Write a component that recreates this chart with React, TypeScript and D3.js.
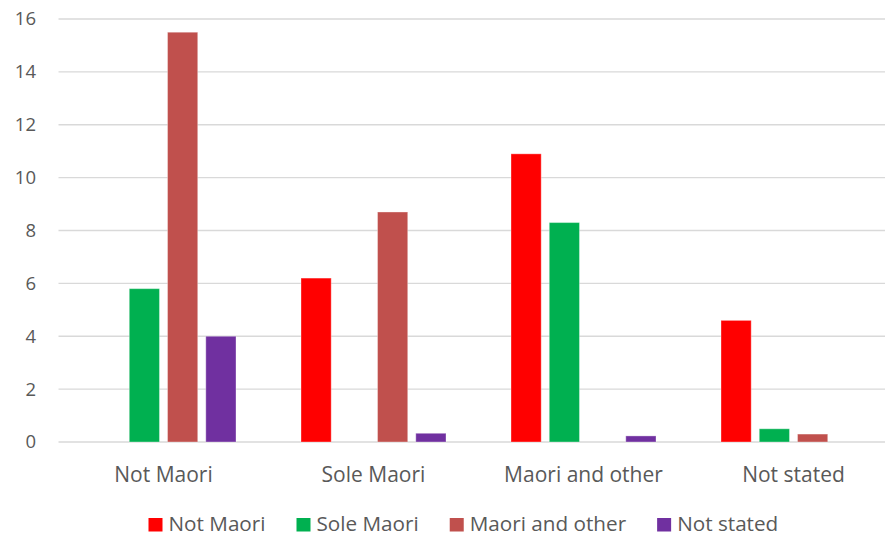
import React, { useEffect, useRef } from "react";
import * as d3 from "d3";

const categories = ["Not Maori", "Sole Maori", "Maori and other", "Not stated"];
const seriesNames = ["Not Maori", "Sole Maori", "Maori and other", "Not stated"];
const seriesColors = ["#FF0000", "#00B050", "#C0504D", "#7030A0"];
// values per series, one entry per category
const notMaoriValues = [0, 6.2, 10.9, 4.6];
const soleMaoriValues = [5.8, 0, 8.3, 0.5];
const maoriOtherValues = [15.5, 8.7, 0, 0.3];
const notStatedValues = [4.0, 0.33, 0.23, 0];
const yTicks = [0, 2, 4, 6, 8, 10, 12, 14, 16];

const W = 885;
const H = 535;
const FONT = "'Open Sans', sans-serif";
const TEXT = "#595959";

export default function App() {
  const ref = useRef<SVGSVGElement>(null);

  useEffect(() => {
    const svg = d3.select(ref.current);
    svg.selectAll("*").remove();

    const series = [notMaoriValues, soleMaoriValues, maoriOtherValues, notStatedValues];
    const x0 = d3.scaleBand<string>().domain(categories).range([58.5, 898.5]).paddingInner(0).paddingOuter(0);
    const x1 = d3
      .scaleBand<string>()
      .domain(seriesNames)
      .range([32.5, x0.bandwidth() - 32.5])
      .paddingInner(8 / 38)
      .paddingOuter(0);
    const y = d3.scaleLinear().domain([0, 16]).range([442, 19]);

    // gridlines
    svg
      .append("g")
      .selectAll("line")
      .data(yTicks)
      .join("line")
      .attr("x1", 58.5)
      .attr("x2", 898.5)
      .attr("y1", (d) => y(d))
      .attr("y2", (d) => y(d))
      .attr("stroke", "#d9d9d9")
      .attr("stroke-width", 1.4);

    // y tick labels
    svg
      .append("g")
      .selectAll("text")
      .data(yTicks)
      .join("text")
      .attr("x", 36)
      .attr("y", (d) => y(d) + 6.4)
      .attr("text-anchor", "end")
      .attr("font-family", FONT)
      .attr("font-size", 18.5)
      .attr("fill", TEXT)
      .text((d) => String(d));

    // bars
    const groups = svg
      .append("g")
      .selectAll("g")
      .data(categories)
      .join("g")
      .attr("transform", (c) => `translate(${x0(c)},0)`);

    groups
      .selectAll("rect")
      .data((c) =>
        seriesNames.map((s, si) => ({ s, si, v: series[si][categories.indexOf(c)] }))
      )
      .join("rect")
      .filter((d) => d.v > 0)
      .attr("x", (d) => x1(d.s)!)
      .attr("width", x1.bandwidth())
      .attr("y", (d) => y(d.v))
      .attr("height", (d) => y(0) - y(d.v))
      .attr("fill", (d) => seriesColors[d.si])
      .attr("stroke", "rgba(255,255,255,0.35)")
      .attr("stroke-width", 1);

    // category labels
    svg
      .append("g")
      .selectAll("text")
      .data(categories)
      .join("text")
      .attr("x", (c) => x0(c)! + x0.bandwidth() / 2)
      .attr("y", 481.5)
      .attr("text-anchor", "middle")
      .attr("font-family", FONT)
      .attr("font-size", 21)
      .attr("fill", TEXT)
      .text((c) => c);

    // legend
    const legend = svg.append("g");
    let lx = 148.5;
    seriesNames.forEach((name, i) => {
      legend
        .append("rect")
        .attr("x", lx)
        .attr("y", 518)
        .attr("width", 14)
        .attr("height", 13.5)
        .attr("fill", seriesColors[i]);
      const t = legend
        .append("text")
        .attr("x", lx + 20)
        .attr("y", 530.5)
        .attr("font-family", FONT)
        .attr("font-size", 20.7)
        .attr("fill", TEXT)
        .text(name);
      const w = (t.node() as SVGTextElement).getComputedTextLength();
      lx = lx + 20 + w + 31;
    });
  }, []);

  return (
    <svg
      ref={ref}
      width={W}
      height={H}
      style={{ position: "absolute", left: 0, top: 0, background: "#fff" }}
    />
  );
}
